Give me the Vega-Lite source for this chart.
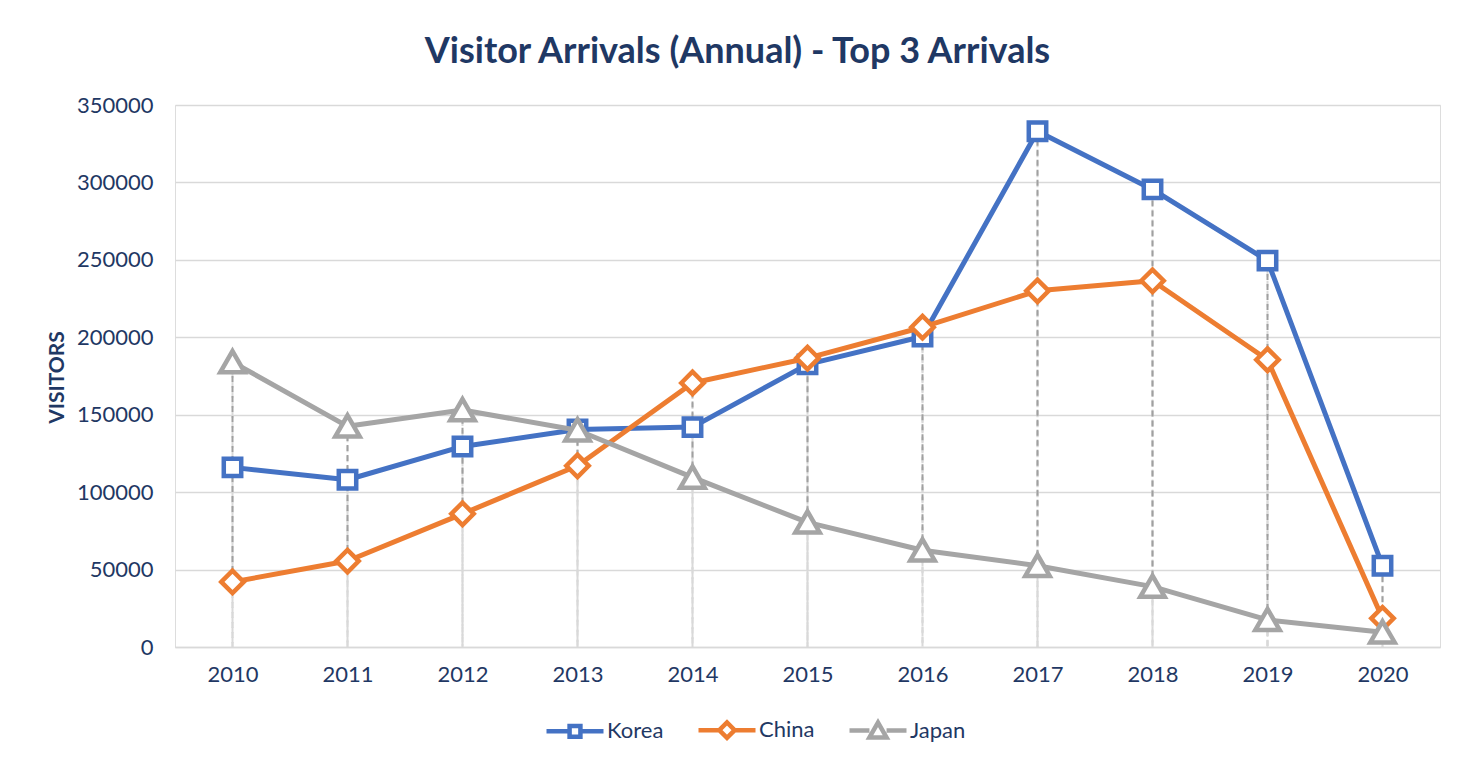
{
  "$schema": "https://vega.github.io/schema/vega-lite/v6.json",
  "width": 1265,
  "height": 542,
  "autosize": {"type": "none"},
  "padding": {"left": 175, "top": 105, "right": 34, "bottom": 122},
  "background": "white",
  "title": {
    "text": "Visitor Arrivals (Annual) - Top 3 Arrivals",
    "font": "Lato",
    "fontSize": 36,
    "fontWeight": "bold",
    "color": "#1f3864",
    "anchor": "middle",
    "dx": -70,
    "offset": 23
  },
  "data": {
    "values": [
      {"year": "2010", "country": "Korea", "visitors": 116000},
      {"year": "2011", "country": "Korea", "visitors": 108000},
      {"year": "2012", "country": "Korea", "visitors": 129500},
      {"year": "2013", "country": "Korea", "visitors": 140500},
      {"year": "2014", "country": "Korea", "visitors": 142000},
      {"year": "2015", "country": "Korea", "visitors": 182500},
      {"year": "2016", "country": "Korea", "visitors": 200500},
      {"year": "2017", "country": "Korea", "visitors": 333000},
      {"year": "2018", "country": "Korea", "visitors": 295500},
      {"year": "2019", "country": "Korea", "visitors": 249500},
      {"year": "2020", "country": "Korea", "visitors": 52500},
      {"year": "2010", "country": "China", "visitors": 42000},
      {"year": "2011", "country": "China", "visitors": 55500},
      {"year": "2012", "country": "China", "visitors": 86000},
      {"year": "2013", "country": "China", "visitors": 117000},
      {"year": "2014", "country": "China", "visitors": 170500},
      {"year": "2015", "country": "China", "visitors": 186500},
      {"year": "2016", "country": "China", "visitors": 206500},
      {"year": "2017", "country": "China", "visitors": 230000},
      {"year": "2018", "country": "China", "visitors": 236500},
      {"year": "2019", "country": "China", "visitors": 185500},
      {"year": "2020", "country": "China", "visitors": 18500},
      {"year": "2010", "country": "Japan", "visitors": 184000},
      {"year": "2011", "country": "Japan", "visitors": 142500},
      {"year": "2012", "country": "Japan", "visitors": 153000},
      {"year": "2013", "country": "Japan", "visitors": 140000},
      {"year": "2014", "country": "Japan", "visitors": 109500},
      {"year": "2015", "country": "Japan", "visitors": 80500},
      {"year": "2016", "country": "Japan", "visitors": 62500},
      {"year": "2017", "country": "Japan", "visitors": 52500},
      {"year": "2018", "country": "Japan", "visitors": 39000},
      {"year": "2019", "country": "Japan", "visitors": 17500},
      {"year": "2020", "country": "Japan", "visitors": 9500}
    ]
  },
  "encoding": {
    "x": {
      "field": "year",
      "type": "ordinal",
      "scale": {"type": "point", "padding": 0.5},
      "axis": {
        "title": null,
        "labelAngle": 0,
        "labelFont": "Lato",
        "labelFontSize": 22,
        "labelColor": "#1f3864",
        "labelPadding": 17,
        "ticks": false,
        "domain": true,
        "domainColor": "#d9d9d9",
        "domainWidth": 1.5,
        "grid": false
      }
    },
    "y": {
      "field": "visitors",
      "type": "quantitative",
      "scale": {"domain": [0, 350000], "nice": false},
      "axis": {
        "title": "VISITORS",
        "values": [0, 50000, 100000, 150000, 200000, 250000, 300000, 350000],
        "format": "d",
        "labelFont": "Lato",
        "labelFontSize": 22,
        "labelColor": "#1f3864",
        "labelPadding": 22,
        "ticks": false,
        "domain": false,
        "grid": true,
        "gridColor": "#d9d9d9",
        "gridWidth": 1.5,
        "titleFont": "Lato",
        "titleFontSize": 21,
        "titleFontWeight": "bold",
        "titleColor": "#1f3864",
        "titleAngle": -90,
        "titleX": -112,
        "titleY": 272,
        "titleAlign": "center",
        "titleBaseline": "alphabetic"
      }
    }
  },
  "layer": [
    {
      "mark": {"type": "rule", "color": "#d9d9d9", "strokeWidth": 2, "strokeDash": [6, 4]},
      "encoding": {"y2": {"datum": 0}}
    },
    {
      "transform": [
        {"aggregate": [{"op": "min", "field": "visitors", "as": "lo"}, {"op": "max", "field": "visitors", "as": "hi"}], "groupby": ["year"]}
      ],
      "mark": {"type": "rule", "color": "#a0a0a0", "strokeWidth": 2, "strokeDash": [6, 4]},
      "encoding": {
        "y": {"field": "lo", "type": "quantitative"},
        "y2": {"field": "hi"}
      }
    },
    {
      "transform": [{"filter": "datum.country === 'Korea'"}],
      "mark": {"type": "line", "color": "#4472c4", "strokeWidth": 5, "strokeJoin": "round", "strokeCap": "round"},
      "encoding": {}
    },
    {
      "transform": [{"filter": "datum.country === 'Korea'"}],
      "mark": {"type": "point", "shape": "M-0.7,-0.7H0.7V0.7H-0.7Z", "size": 620, "filled": false, "fill": "white", "fillOpacity": 1, "stroke": "#4472c4", "strokeWidth": 4.5, "opacity": 1},
      "encoding": {}
    },
    {
      "transform": [{"filter": "datum.country === 'China'"}],
      "mark": {"type": "line", "color": "#ed7d31", "strokeWidth": 5, "strokeJoin": "round", "strokeCap": "round"},
      "encoding": {}
    },
    {
      "transform": [{"filter": "datum.country === 'China'"}],
      "mark": {"type": "point", "shape": "M-0.9,0L0,-0.9L0.9,0L0,0.9Z", "size": 620, "filled": false, "fill": "white", "fillOpacity": 1, "stroke": "#ed7d31", "strokeWidth": 4.5, "opacity": 1},
      "encoding": {}
    },
    {
      "transform": [{"filter": "datum.country === 'Japan'"}],
      "mark": {"type": "line", "color": "#a5a5a5", "strokeWidth": 5, "strokeJoin": "round", "strokeCap": "round"},
      "encoding": {}
    },
    {
      "transform": [{"filter": "datum.country === 'Japan'"}],
      "mark": {"type": "point", "shape": "M0,-0.88L0.98,0.82L-0.98,0.82Z", "size": 620, "filled": false, "fill": "white", "fillOpacity": 1, "stroke": "#a5a5a5", "strokeWidth": 4.5, "opacity": 1},
      "encoding": {}
    },
    {
      "transform": [{"filter": "datum.year === 'none'"}],
      "mark": {"type": "point", "filled": false, "opacity": 1, "strokeWidth": 4.5},
      "encoding": {
        "stroke": {
          "field": "country",
          "type": "nominal",
          "scale": {"domain": ["Korea", "China", "Japan"], "range": ["#4472c4", "#ed7d31", "#a5a5a5"]},
          "legend": {
            "title": null,
            "orient": "none",
            "direction": "horizontal",
            "legendX": 369,
            "legendY": 594,
            "padding": 0,
            "symbolSize": 3249,
            "symbolStrokeWidth": 4.5,
            "symbolFillColor": "white",
            "labelFont": "Lato",
            "labelFontSize": 22,
            "labelColor": "#1f3864",
            "labelOffset": 1,
            "columnPadding": 25
          }
        },
        "shape": {
          "field": "country",
          "type": "nominal",
          "scale": {
            "domain": ["Korea", "China", "Japan"],
            "range": [
              "M-1,0H-0.19M0.19,0H1M-0.19,-0.19H0.19V0.19H-0.19Z",
              "M-1,0H-0.27M0.27,0H1M-0.27,0L0,-0.27L0.27,0L0,0.27Z",
              "M-1,0H-0.3M0.3,0H1M-0.3,0.24L0,-0.28L0.3,0.24Z"
            ]
          }
        }
      }
    }
  ]
}
